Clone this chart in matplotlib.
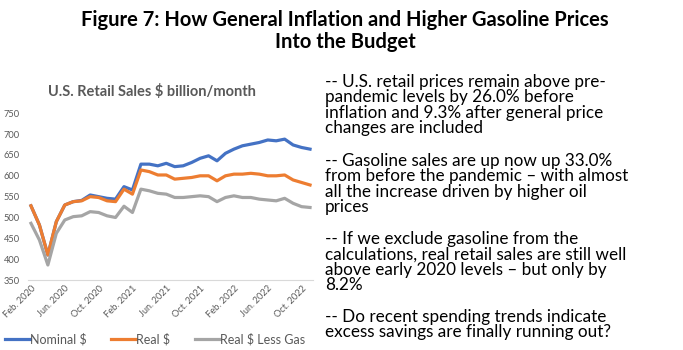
import matplotlib.pyplot as plt
import numpy as np

# monthly, Feb 2020 .. Nov 2022
months = ["Feb. 2020", "Mar. 2020", "Apr. 2020", "May. 2020", "Jun. 2020", "Jul. 2020",
          "Aug. 2020", "Sep. 2020", "Oct. 2020", "Nov. 2020", "Dec. 2020", "Jan. 2021",
          "Feb. 2021", "Mar. 2021", "Apr. 2021", "May. 2021", "Jun. 2021", "Jul. 2021",
          "Aug. 2021", "Sep. 2021", "Oct. 2021", "Nov. 2021", "Dec. 2021", "Jan. 2022",
          "Feb. 2022", "Mar. 2022", "Apr. 2022", "May. 2022", "Jun. 2022", "Jul. 2022",
          "Aug. 2022", "Sep. 2022", "Oct. 2022", "Nov. 2022"]

nominal = [528, 482, 410, 490, 530, 538, 541, 554, 550, 546, 544, 574,
           566, 628, 628, 624, 630, 622, 624, 632, 642, 648, 636, 654,
           664, 672, 676, 680, 686, 684, 688, 674, 668, 664]
real = [528, 482, 410, 490, 530, 538, 540, 550, 548, 540, 538, 568,
        556, 614, 610, 602, 602, 592, 594, 596, 600, 600, 588, 600,
        604, 604, 606, 604, 600, 600, 602, 590, 584, 578]
real_less_gas = [486, 446, 386, 462, 494, 502, 504, 514, 512, 504, 500, 527,
                 512, 568, 564, 558, 556, 548, 548, 550, 552, 550, 538, 548,
                 552, 548, 548, 544, 542, 540, 546, 534, 526, 524]

title = "Figure 7: How General Inflation and Higher Gasoline Prices\nInto the Budget"
chart_title = "U.S. Retail Sales $ billion/month"
notes = [
    "-- U.S. retail prices remain above pre-\npandemic levels by 26.0% before\ninflation and 9.3% after general price\nchanges are included",
    "-- Gasoline sales are up now up 33.0%\nfrom before the pandemic \u2013 with almost\nall the increase driven by higher oil\nprices",
    "-- If we exclude gasoline from the\ncalculations, real retail sales are still well\nabove early 2020 levels \u2013 but only by\n8.2%",
    "-- Do recent spending trends indicate\nexcess savings are finally running out?",
]

plt.rcParams['font.family'] = ['Lato', 'DejaVu Sans']
grey = '#595959'

W, H = 683, 350
fig = plt.figure(figsize=(W / 100, H / 100), dpi=100)

fig.text(0.505, 1 - 10 / H, title, ha='center', va='top', fontsize=14.5,
         fontweight='bold', linespacing=1.15)

ax = fig.add_axes([28 / W, 70 / H, (313 - 28) / W, (280 - 113.3) / H])
x = np.arange(len(months))
ax.plot(x, nominal, color='#4472C4', lw=2.3, label='Nominal $')
ax.plot(x, real, color='#ED7D31', lw=2.3, label='Real $')
ax.plot(x, real_less_gas, color='#A5A5A5', lw=2.3, label='Real $ Less Gas')

ax.set_xlim(-0.35, len(months) - 1 + 0.35)
ax.set_ylim(350, 750)
ax.set_yticks(range(350, 751, 50))
ax.set_xticks(x[::4])
ax.set_xticklabels(months[::4], rotation=45, ha='right', rotation_mode='anchor')
ax.tick_params(axis='both', length=0, colors=grey, labelsize=6.7)
ax.tick_params(axis='y', pad=6)
ax.tick_params(axis='x', pad=3)
for s in ['top', 'right', 'left']:
    ax.spines[s].set_visible(False)
ax.spines['bottom'].set_color('#D9D9D9')

fig.text(152 / W, 1 - 92 / H, chart_title, ha='center', va='center', fontsize=10.5,
         fontweight='bold', color=grey)

fig.legend(loc='center', bbox_to_anchor=(155 / W, 1 - 339 / H), ncol=3, frameon=False,
           fontsize=9, handlelength=2.0, handletextpad=0.0, columnspacing=2.0,
           labelcolor=grey)

ys = [74, 153, 231, 309]
for y, t in zip(ys, notes):
    fig.text(325 / W, 1 - y / H, t, ha='left', va='top', fontsize=12.3,
             linespacing=0.96)

fig.savefig('out.png', dpi=100)
